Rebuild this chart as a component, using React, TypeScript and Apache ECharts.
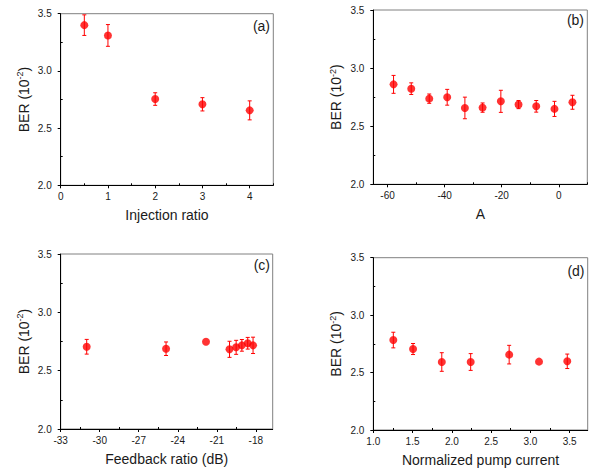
import React, { useEffect, useRef } from "react";
import * as echarts from "echarts";

// Panel (a): Injection ratio
const xA = [0.5, 1, 2, 3, 4];
const yA = [3.4, 3.31, 2.754, 2.708, 2.655];
const eA = [0.09, 0.095, 0.055, 0.058, 0.083];
// Panel (b): A
const xB = [-57.9, -51.7, -45.4, -39.1, -32.9, -26.7, -20.3, -14.1, -7.9, -1.5, 4.8];
const yB = [2.86, 2.823, 2.737, 2.749, 2.657, 2.66, 2.714, 2.686, 2.671, 2.649, 2.706];
const eB = [0.077, 0.05, 0.04, 0.068, 0.093, 0.04, 0.095, 0.035, 0.05, 0.065, 0.06];
// Panel (c): Feedback ratio (dB)
const xC = [-31.0, -24.9, -21.83, -20.02, -19.51, -19.07, -18.62, -18.21];
const yC = [2.705, 2.688, 2.748, 2.683, 2.7, 2.717, 2.735, 2.717];
const eC = [0.063, 0.058, 0, 0.069, 0.06, 0.05, 0.05, 0.07];
// Panel (d): Normalized pump current
const xD = [1.255, 1.506, 1.872, 2.24, 2.73, 3.11, 3.47];
const yD = [2.783, 2.705, 2.592, 2.592, 2.656, 2.595, 2.598];
const eD = [0.068, 0.048, 0.081, 0.073, 0.081, 0, 0.063];

// Ticks
const ticksXA = [0, 1, 2, 3, 4];
const minorXA = [0.5, 1.5, 2.5, 3.5, 4.5];
const ticksXB = [-60, -40, -20, 0];
const minorXB = [-50, -30, -10, 10];
const ticksXC = [-33, -30, -27, -24, -21, -18];
const labelsXC1 = [-33, -27, -21, -18];
const labelsXC2 = [-30, -24];
const minorXC = [-31.5, -28.5, -25.5, -22.5, -19.5, -16.5];
const ticksXD = [1, 1.5, 2, 2.5, 3, 3.5];
const minorXD = [1.25, 1.75, 2.25, 2.75, 3.25, 3.75];
const ticksY = [2, 2.5, 3, 3.5];
const minorY = [2.25, 2.75, 3.25];

const xTitles = ["Injection ratio", "A", "Feedback ratio (dB)", "Normalized pump current"];
const panelLabels = ["(a)", "(b)", "(c)", "(d)"];

const FONT = "'Liberation Sans', Arial, sans-serif";
const TXT = "#1a1a1a";
const RED = "#ff0000";

export default function App() {
  const ref = useRef<HTMLDivElement>(null);
  useEffect(() => {
    if (!ref.current) return;
    const chart = echarts.init(ref.current, null, { renderer: "svg" });

    const grids: any[] = [
      { left: 60.7, top: 13.7, width: 212.6, height: 171.6 },
      { left: 373.3, top: 10, width: 214, height: 174.3 },
      { left: 60.7, top: 254, width: 212, height: 175 },
      { left: 373.3, top: 257.7, width: 214.4, height: 172.3 },
    ];
    const xRanges = [
      [0, 4.5],
      [-65, 10],
      [-33, -16.7],
      [1, 3.73],
    ];
    const xTicks = [ticksXA, ticksXB, ticksXC, ticksXD];
    const xLabels = [ticksXA, ticksXB, labelsXC1, ticksXD];
    const xMinor = [minorXA, minorXB, minorXC, minorXD];
    const xFmt = [
      (v: number) => String(v),
      (v: number) => String(v),
      (v: number) => String(v),
      (v: number) => v.toFixed(1),
    ];
    const datasets = [
      [xA, yA, eA],
      [xB, yB, eB],
      [xC, yC, eC],
      [xD, yD, eD],
    ];
    const labelPos = [
      [270, 26],
      [584, 20],
      [270, 264.5],
      [584.5, 271],
    ];

    const labelStyle = { margin: 6, fontFamily: FONT, fontSize: 10, color: TXT };

    const xAxis: any[] = [];
    const yAxis: any[] = [];
    const series: any[] = [];

    for (let i = 0; i < 4; i++) {
      xAxis.push({
        type: "value",
        gridIndex: i,
        position: "bottom",
        min: xRanges[i][0],
        max: xRanges[i][1],
        name: xTitles[i],
        nameLocation: "middle",
        nameGap: 23,
        nameTextStyle: { fontFamily: FONT, fontSize: 14, color: TXT },
        axisLine: { show: true, onZero: false, lineStyle: { color: "#000", width: 1 } },
        axisTick: { show: true, inside: false, length: 3, customValues: xTicks[i], lineStyle: { color: "#000" } },
        axisLabel: { ...labelStyle, customValues: xLabels[i], formatter: xFmt[i] },
        splitLine: { show: false },
      });
      xAxis.push({
        type: "value",
        gridIndex: i,
        position: "bottom",
        min: xRanges[i][0],
        max: xRanges[i][1],
        axisLine: { show: false, onZero: false },
        axisTick: { show: true, inside: true, length: 2, customValues: xMinor[i], lineStyle: { color: "#000" } },
        axisLabel: { show: false },
        splitLine: { show: false },
      });
      yAxis.push({
        type: "value",
        gridIndex: i,
        position: "left",
        min: 2,
        max: 3.5,
        name: "{n|BER (10}{s|-2}{n|)}",
        nameLocation: "middle",
        nameGap: 29,
        nameTextStyle: {
          fontFamily: FONT,
          color: TXT,
          rich: {
            n: { fontFamily: FONT, fontSize: 14, color: TXT, lineHeight: 16 },
            s: { fontFamily: FONT, fontSize: 9, color: TXT, verticalAlign: "top", lineHeight: 16, padding: [0, 0, 6, 0] },
          },
        },
        axisLine: { show: true, onZero: false, lineStyle: { color: "#000", width: 1 } },
        axisTick: { show: true, inside: false, length: 3, customValues: ticksY, lineStyle: { color: "#000" } },
        axisLabel: {
          customValues: ticksY,
          margin: 9,
          fontFamily: FONT,
          fontSize: 10,
          color: TXT,
          formatter: (v: number) => v.toFixed(1),
        },
        splitLine: { show: false },
      });
      yAxis.push({
        type: "value",
        gridIndex: i,
        position: "left",
        min: 2,
        max: 3.5,
        axisLine: { show: false, onZero: false },
        axisTick: { show: true, inside: true, length: 2, customValues: minorY, lineStyle: { color: "#000" } },
        axisLabel: { show: false },
        splitLine: { show: false },
      });

      const [xs, ys, es] = datasets[i];
      const pts = xs.map((x, k) => [x, ys[k], es[k]]);
      series.push({
        type: "custom",
        xAxisIndex: 2 * i,
        yAxisIndex: 2 * i,
        data: pts,
        encode: { x: 0, y: 1 },
        z: 2,
        renderItem: (params: any, api: any) => {
          const x = api.value(0);
          const y = api.value(1);
          const e = api.value(2);
          if (!e) return { type: "group", children: [] };
          const t = api.coord([x, y + e]);
          const b = api.coord([x, y - e]);
          const cap = 2;
          const style = { stroke: RED, lineWidth: 1 };
          return {
            type: "group",
            children: [
              { type: "line", shape: { x1: t[0], y1: t[1], x2: b[0], y2: b[1] }, style },
              { type: "line", shape: { x1: t[0] - cap, y1: t[1], x2: t[0] + cap, y2: t[1] }, style },
              { type: "line", shape: { x1: b[0] - cap, y1: b[1], x2: b[0] + cap, y2: b[1] }, style },
            ],
          };
        },
      });
      series.push({
        type: "scatter",
        xAxisIndex: 2 * i,
        yAxisIndex: 2 * i,
        data: xs.map((x, k) => [x, ys[k]]),
        symbol: "circle",
        symbolSize: 8,
        itemStyle: { color: RED },
        z: 3,
      });
    }

    // Remaining tick labels of panel (c), drawn through the axis scale
    series.push({
      type: "custom",
      xAxisIndex: 4,
      yAxisIndex: 4,
      clip: false,
      silent: true,
      data: labelsXC2.map((v) => [v, 2]),
      encode: { x: 0, y: 1 },
      z: 10,
      renderItem: (params: any, api: any) => {
        const v = api.value(0);
        const c = api.coord([v, api.value(1)]);
        return {
          type: "text",
          x: c[0],
          y: c[1] + 6,
          style: {
            text: String(v),
            fontFamily: FONT,
            fontSize: 10,
            fill: TXT,
            align: "center",
            verticalAlign: "top",
          },
        };
      },
    });

    const graphic: any[] = panelLabels.map((t, i) => ({
      type: "text",
      x: labelPos[i][0],
      y: labelPos[i][1],
      style: {
        text: t,
        fontFamily: FONT,
        fontSize: 14,
        fill: TXT,
        align: "right",
        verticalAlign: "middle",
      },
      z: 10,
    }));

    chart.setOption({
      animation: false,
      backgroundColor: "#ffffff",
      grid: grids.map((g) => ({
        ...g,
        show: true,
        borderColor: "#808080",
        borderWidth: 1,
        backgroundColor: "transparent",
        containLabel: false,
      })),
      xAxis,
      yAxis,
      series,
      graphic,
    });

    return () => chart.dispose();
  }, []);

  return (
    <div
      ref={ref}
      style={{ position: "fixed", left: 0, top: 0, width: 597, height: 468, background: "#fff" }}
    />
  );
}
